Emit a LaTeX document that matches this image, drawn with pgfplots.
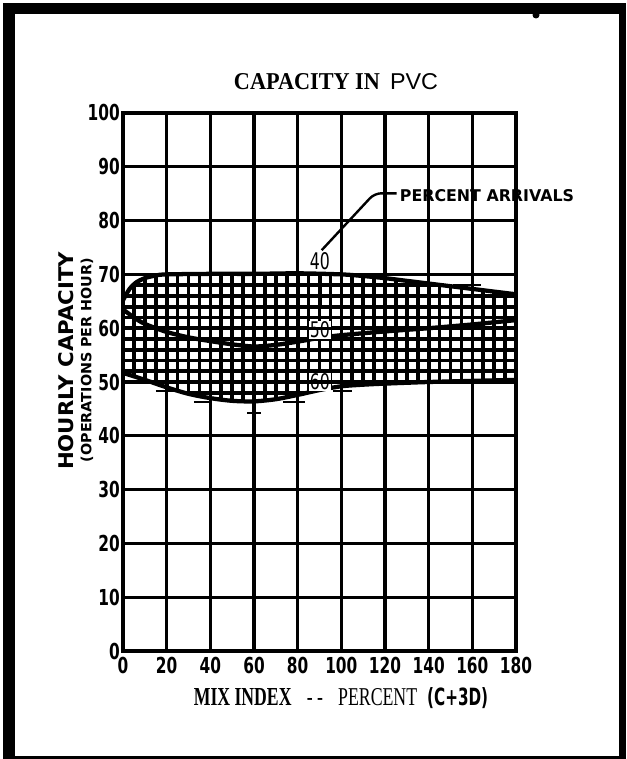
\documentclass[border=0pt]{standalone}
\usepackage{fontspec}
\setmainfont{Liberation Serif}
\setsansfont{Liberation Sans}
\newfontfamily\lett[FakeStretch=0.7]{DejaVu Sans}
\newfontfamily\dejavu{DejaVu Sans}
\usepackage{graphicx}
\usepackage{pgfplots}
\usepackage{pgfplotstable}
\pgfplotsset{compat=1.18}
\usepgfplotslibrary{fillbetween}

% percent arrivals 40 (upper edge of band)
\pgfplotstableread{
x y
0 65.2
3 67.3
6 68.5
10 69.3
15 69.8
20 70.0
40 70.1
60 70.1
80 70.2
100 70.0
110 69.7
120 69.3
130 68.8
140 68.3
150 67.8
160 67.3
170 66.8
180 66.3
}\arrforty

% percent arrivals 50
\pgfplotstableread{
x y
0 63.5
5 62.0
10 60.8
20 59.3
30 58.3
40 57.6
50 57.0
60 56.6
70 56.9
80 57.5
90 58.2
100 58.7
120 59.4
140 60.0
160 60.7
180 61.5
}\arrfifty

% percent arrivals 60 (lower edge of band)
\pgfplotstableread{
x y
0 51.7
10 50.4
20 49.0
30 47.8
40 47.0
50 46.5
60 46.4
70 46.8
80 47.6
90 48.5
100 49.2
110 49.5
120 49.7
140 50.0
160 50.2
180 50.4
}\arrsixty

\begin{document}
\begin{tikzpicture}
% 1 unit = 1 pixel of the reference, origin at the axis corner
\begin{scope}[x=0.75pt,y=-0.75pt,shift={(-92.25pt,488.25pt)}]
  \useasboundingbox (0,0) rectangle (626,759);
\end{scope}

\begin{axis}[
    at={(0,0)}, anchor=south west,
    scale only axis,
    width=294.75pt, height=403.5pt,
    xmin=0, xmax=180, ymin=0, ymax=100,
    xtick={0,20,...,180},
    ytick={0,10,...,100},
    grid=major,
    major grid style={black, line width=2.4pt},
    axis line style={black, line width=2.4pt},
    major tick length=0pt,
    axis on top,
    set layers=axis on top,
    tick label style={font=\lett\bfseries\fontsize{16.5}{16.5}\selectfont, inner sep=0pt},
    xticklabel style={anchor=north},
    yticklabel style={anchor=east},
    xticklabel shift=4.5pt,
    yticklabel shift=2.25pt,
    /pgf/number format/assume math mode=true,
]
% cross-hatching of the band (bottom layer)
\addplot[black, line width=2.75pt, on layer=axis background] coordinates {
  (0,44)(0,72)(5,72)(5,44)(10,44)(10,72)(15,72)(15,44)(20,44)(20,72)
  (25,72)(25,44)(30,44)(30,72)(35,72)(35,44)(40,44)(40,72)(45,72)(45,44)
  (50,44)(50,72)(55,72)(55,44)(60,44)(60,72)(65,72)(65,44)(70,44)(70,72)
  (75,72)(75,44)(80,44)(80,72)(85,72)(85,44)(90,44)(90,72)(95,72)(95,44)
  (100,44)(100,72)(105,72)(105,44)(110,44)(110,72)(115,72)(115,44)
  (120,44)(120,72)(125,72)(125,44)(130,44)(130,72)(135,72)(135,44)
  (140,44)(140,72)(145,72)(145,44)(150,44)(150,72)(155,72)(155,44)
  (160,44)(160,72)(165,72)(165,44)(170,44)(170,72)(175,72)(175,44)
  (180,44)(180,72)
};
\addplot[black, line width=2.75pt, on layer=axis background] coordinates {
  (0,46)(180,46)(180,48)(0,48)(0,50)(180,50)(180,52)(0,52)(0,54)(180,54)
  (180,56)(0,56)(0,58)(180,58)(180,60)(0,60)(0,62)(180,62)(180,64)(0,64)
  (0,66)(180,66)(180,68)(0,68)(0,70)(180,70)
};
% short stroke on the hatch line at 90
\addplot[black, line width=3pt, on layer=axis background] coordinates {(90,70) (90,63.5)};

% blank out everything outside the band (pre main layer)
\addplot[draw=none, smooth, name path=top] table {\arrforty};
\addplot[draw=none, smooth, name path=bot] table {\arrsixty};
\addplot[draw=none, name path=ceil] coordinates {(0,73) (180,73)};
\addplot[draw=none, name path=floor] coordinates {(0,42) (180,42)};
\addplot[white] fill between[of=top and ceil];
\addplot[white] fill between[of=floor and bot];

% the three curves
\addplot[black, line width=3.2pt, smooth] table {\arrforty};
\addplot[black, line width=3.2pt, smooth] table {\arrfifty};
\addplot[black, line width=3.2pt, smooth] table {\arrsixty};

% stray drafting marks
\addplot[black, line width=1.5pt, unbounded coords=jump] coordinates {
  (15,48.3)(25,48.3)(0,nan)(32.5,46.3)(39.5,46.3)(0,nan)
  (73.5,46.3)(83.5,46.3)(0,nan)(57,44.2)(63,44.2)(0,nan)
  (60,45.2)(60,43.4)(0,nan)(96,48.3)(105,48.3)(0,nan)
  (151,68.1)(164,68.1)
};

\coordinate (c40) at (axis cs:90.2,72.4);
\coordinate (c50) at (axis cs:90.2,59.7);
\coordinate (c60) at (axis cs:90.2,50.0);
\coordinate (l1) at (axis cs:91,74.5);
\coordinate (l2) at (axis cs:115.2,85.07);
\coordinate (l3) at (axis cs:125.3,85.07);
\coordinate (b1) at (axis cs:123.5,81);
\coordinate (b2) at (axis cs:209,89.3);
\coordinate (pa) at (axis cs:166.7,84.67);
\end{axis}

% curve labels and leader
\node[inner sep=0pt] at (c40) {\resizebox{15pt}{12.75pt}{\dejavu 40}};
\node[fill=white, inner sep=0.8pt] at (c50) {\resizebox{15pt}{12pt}{\dejavu 50}};
\node[fill=white, inner sep=0.8pt] at (c60) {\resizebox{15pt}{12pt}{\dejavu 60}};
\fill[white] (b1) rectangle (b2);
\draw[black, line width=1.8pt, rounded corners=5pt] (l1) -- (l2) -- (l3);
\node[inner sep=0pt] at (pa) {\resizebox{130.5pt}{9pt}{\dejavu\bfseries PERCENT ARRIVALS}};

\begin{scope}[x=0.75pt,y=-0.75pt,shift={(-92.25pt,488.25pt)}]
  % frame
  \fill[black] (3,3) rectangle (626,14);
  \fill[black] (3,3) rectangle (15,759);
  \fill[black] (619,3) rectangle (626,759);
  \fill[black] (3,756) rectangle (626,759);
  \fill[black] (536,15) circle (3.5);
  % title
  \node[anchor=base, inner sep=0pt] at (336,90)
    {\resizebox{109.5pt}{12pt}{\bfseries CAPACITY IN}\hspace{7.5pt}\resizebox{36pt}{12pt}{\sffamily PVC}};
  % x label
  \node[anchor=base, inner sep=0pt] at (341,705)
    {\resizebox{73.3pt}{12.75pt}{\bfseries MIX INDEX}\hspace{11.5pt}\scalebox{0.69}[1]{\fontsize{19.3}{19.3}\selectfont - -}\hspace{11.25pt}\resizebox{59.25pt}{12.75pt}{PERCENT}\hspace{7.5pt}\resizebox{45.75pt}{13.5pt}{\lett\bfseries (C+3D)}};
  % y label
  \node[rotate=90, inner sep=0pt] at (66,361)
    {\resizebox{163.5pt}{11.25pt}{\dejavu\bfseries HOURLY CAPACITY}};
  \node[rotate=90, inner sep=0pt] at (87,360)
    {\resizebox{153pt}{8pt}{\dejavu\bfseries (OPERATIONS PER HOUR)}};
\end{scope}
\end{tikzpicture}
\end{document}
